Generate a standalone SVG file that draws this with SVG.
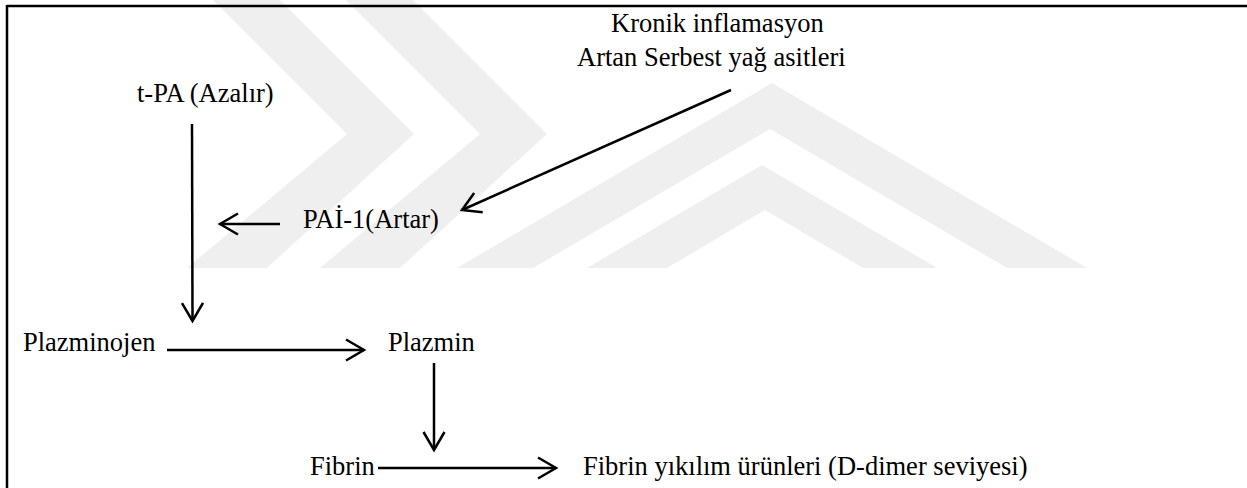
<svg xmlns="http://www.w3.org/2000/svg" width="1247" height="488" viewBox="0 0 1247 488">
<defs>
<style>
.t{font-family:"Liberation Serif","Times New Roman",serif;font-size:26.5px;fill:#000}
.c{stroke:#000;stroke-width:2.5;fill:none}
.wm{fill:#efefef;stroke:none}
</style>
<marker id="ah" markerWidth="26" markerHeight="26" refX="20" refY="12" orient="auto" markerUnits="userSpaceOnUse">
<path d="M2,1.5 L20,12 L2,22.5" fill="none" stroke="#000" stroke-width="2.5"/>
</marker>
</defs>
<rect width="1247" height="488" fill="#fff"/>
<g id="watermark">
<polygon class="wm" points="213,0 280,0 414,134 267,268 187,268 347,134"/>
<polygon class="wm" points="346,0 413,0 547,134 400,268 320,268 480,134"/>
<polygon class="wm" points="772,83 1087,268 1007,268 770,129 533,268 457,268"/>
<polygon class="wm" points="762,165 937,268 863,268 765,210 667,268 587,268"/>
</g>
<g id="frame">
<line x1="7" y1="6" x2="1247" y2="6" stroke="#000" stroke-width="2.5"/>
<line x1="7" y1="5" x2="7" y2="488" stroke="#000" stroke-width="2.5"/>
</g>
<g id="connectors">
<line class="c" x1="192" y1="124" x2="192.5" y2="321" marker-end="url(#ah)"/>
<line class="c" x1="280" y1="224" x2="220" y2="224" marker-end="url(#ah)"/>
<line class="c" x1="731" y1="90" x2="462" y2="210" marker-end="url(#ah)"/>
<line class="c" x1="167" y1="350" x2="364" y2="350" marker-end="url(#ah)"/>
<line class="c" x1="434" y1="363" x2="434" y2="450" marker-end="url(#ah)"/>
<line class="c" x1="378" y1="468" x2="556" y2="468" marker-end="url(#ah)"/>
</g>
<g id="node-kronik"><text class="t" x="611" y="32">Kronik inflamasyon</text><text class="t" x="577" y="66">Artan Serbest yağ asitleri</text></g>
<g id="node-tpa"><text class="t" x="137" y="102">t-PA (Azalır)</text></g>
<g id="node-pai"><text class="t" x="303" y="228">PAİ-1(Artar)</text></g>
<g id="node-plazminojen"><text class="t" x="23" y="351">Plazminojen</text></g>
<g id="node-plazmin"><text class="t" x="388" y="351">Plazmin</text></g>
<g id="node-fibrin"><text class="t" x="310" y="475">Fibrin</text></g>
<g id="node-fyu"><text class="t" x="583" y="475">Fibrin yıkılım ürünleri (D-dimer seviyesi)</text></g>
</svg>
